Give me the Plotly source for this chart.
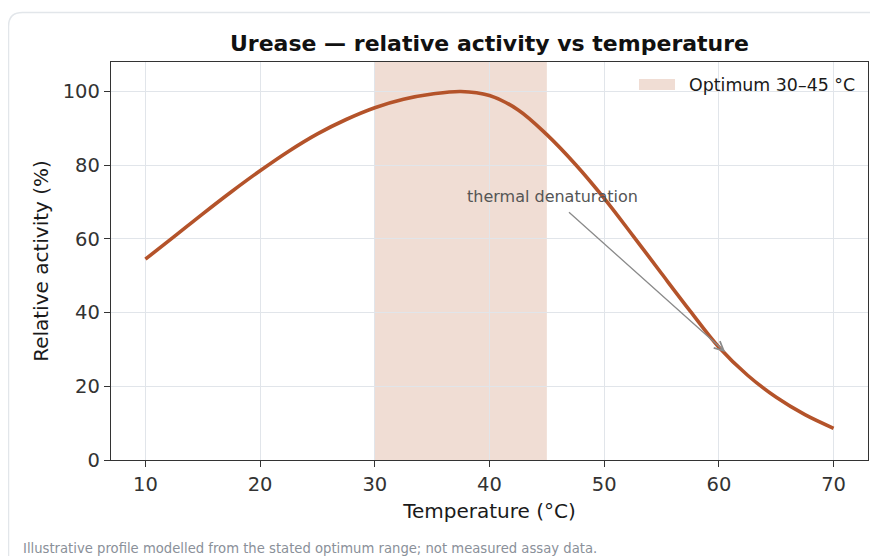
import plotly.graph_objects as go

# ---- data ----
temperature_c = [10, 12.5, 15, 17.5, 20, 22.5, 25, 27.5, 30, 32.5, 35, 37.5, 40,
                 42.5, 45, 47.5, 50, 52.5, 55, 57.5, 60, 62.5, 65, 67.5, 70]
relative_activity = [54.5, 60.6, 66.8, 72.8, 78.5, 83.8, 88.5, 92.4, 95.6, 97.9, 99.3, 100.0, 98.9,
                     95.0, 88.3, 80.2, 71.0, 60.9, 50.6, 40.4, 30.6, 23.0, 17.0, 12.3, 8.6]
optimum_range = [30, 45]
x_ticks = [10, 20, 30, 40, 50, 60, 70]
y_ticks = [0, 20, 40, 60, 80, 100]
annot_tip = (60.55, 29.3)
annot_tail = (46.8, 67.6)
annot_text_pos = (45.5, 71.4)

TITLE = "Urease — relative activity vs temperature"
XLABEL = "Temperature (°C)"
YLABEL = "Relative activity (%)"
LEGEND_LABEL = "Optimum 30–45 °C"
FOOTNOTE = "Illustrative profile modelled from the stated optimum range; not measured assay data."

# ---- geometry (page has an 8px body margin) ----
OFF = 8
W, H = 878 - OFF, 556 - OFF
ML, MR, MT, MB = 111 - OFF, 10, 62 - OFF, 96
PW, PH = W - ML - MR, H - MT - MB


def px(xp):
    return (xp - OFF - ML) / PW


def py(yp):
    return (H - MB - (yp - OFF)) / PH


LINE_COLOR = "#b4532a"
BAND_COLOR = "rgba(180,83,42,0.2)"
FONT = "DejaVu Sans"

fig = go.Figure()
fig.add_trace(go.Scatter(
    x=temperature_c, y=relative_activity, mode="lines",
    line=dict(color=LINE_COLOR, width=3.6, shape="spline", smoothing=1.0),
    showlegend=False, hoverinfo="x+y",
))

# optimum band
fig.add_vrect(x0=optimum_range[0], x1=optimum_range[1], fillcolor=BAND_COLOR,
              line_width=0, layer="below")

# card border (rounded top-left corner)
x0, yt = px(8.5), py(12.5)
x1, yb = px(905), py(580)
rx, ry = 14 / PW, 14 / PH
fig.add_shape(type="path", xref="paper", yref="paper",
              path=f"M {x0},{yb} L {x0},{yt-ry} Q {x0},{yt} {x0+rx},{yt} L {x1},{yt}",
              line=dict(color="#e2e6ea", width=1.5), fillcolor="rgba(0,0,0,0)", layer="below")

# legend (patch + label)
fig.add_shape(type="rect", xref="paper", yref="paper",
              x0=px(639), x1=px(675), y0=py(90), y1=py(79),
              fillcolor=BAND_COLOR, line_width=0)
fig.add_annotation(xref="paper", yref="paper", x=px(687), y=py(84.5),
                   text=LEGEND_LABEL, showarrow=False, xanchor="left", yanchor="middle",
                   font=dict(family=FONT, size=17.4, color="#1a1a1a"))

# annotation arrow + text
fig.add_annotation(x=annot_tip[0], y=annot_tip[1], ax=annot_tail[0], ay=annot_tail[1],
                   xref="x", yref="y", axref="x", ayref="y", text="",
                   showarrow=True, arrowhead=5, arrowsize=1.4, arrowwidth=1.3,
                   arrowcolor="#8a8a8a", standoff=0, startstandoff=0)
fig.add_annotation(x=annot_text_pos[0], y=annot_text_pos[1], xref="x", yref="y",
                   text="thermal denaturation", showarrow=False,
                   font=dict(family=FONT, size=16, color="#555555"))

# footnote
fig.add_annotation(xref="paper", yref="paper", x=px(21), y=py(548),
                   text=FOOTNOTE, showarrow=False, xanchor="left", yanchor="middle",
                   font=dict(family=FONT, size=13.2, color="#8a9099"))

axis_common = dict(
    showline=True, mirror=True, linecolor="#333333", linewidth=1.3,
    ticks="outside", ticklen=6, tickwidth=1.2, tickcolor="#333333",
    showgrid=True, gridcolor="#e1e5ea", gridwidth=1, zeroline=False,
    tickfont=dict(family=FONT, size=19.5, color="#333333"),
)

fig.update_layout(
    width=W, height=H,
    margin=dict(l=ML, r=MR, t=MT, b=MB, pad=0),
    paper_bgcolor="white", plot_bgcolor="white",
    font=dict(family=FONT, color="#1a1a1a"),
    title=dict(text=TITLE, x=px(489.5), xref="paper", xanchor="center",
               y=1 - (43 - OFF) / H, yref="container", yanchor="middle",
               font=dict(family=FONT, size=22, color="#111111", weight="bold")),
    xaxis=dict(range=[7, 73], tickvals=x_ticks,
               title=dict(text=XLABEL, standoff=9, font=dict(family=FONT, size=20, color="#1a1a1a")),
               **axis_common),
    yaxis=dict(range=[0, 108], tickvals=y_ticks,
               title=dict(text=YLABEL, standoff=8, font=dict(family=FONT, size=20, color="#1a1a1a")),
               **axis_common),
    showlegend=False,
)

fig.write_html("out.html")
